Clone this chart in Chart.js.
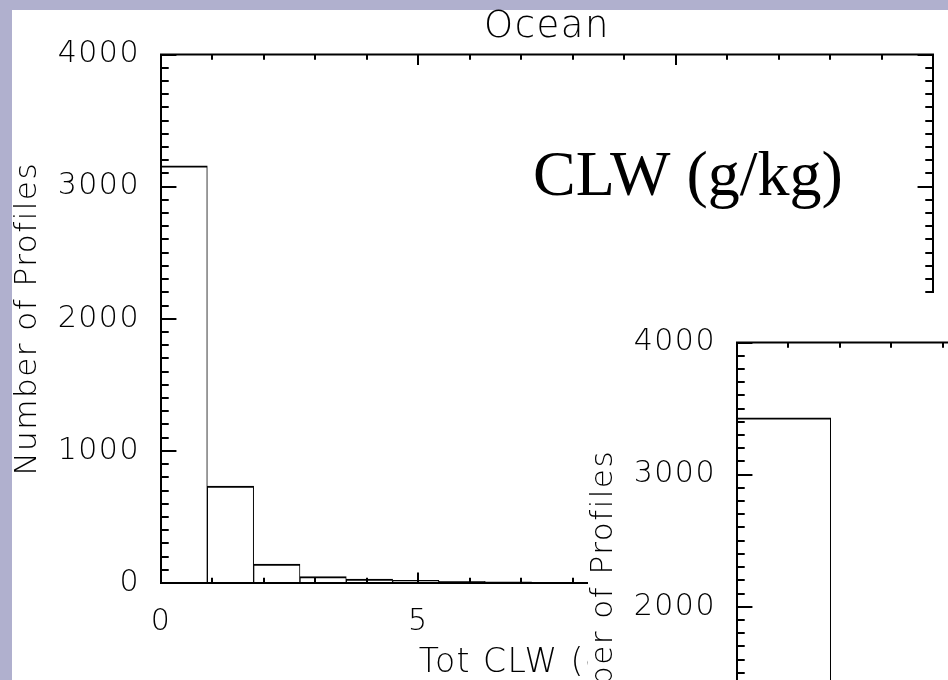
<!DOCTYPE html>
<html>
<head>
<meta charset="utf-8">
<script src="https://cdn.jsdelivr.net/npm/chart.js@4.4.1/dist/chart.umd.min.js"></script>
<style>
  html, body { margin: 0; padding: 0; width: 948px; height: 680px; overflow: hidden; background: #b0b0ce; }
  #panel { position: absolute; left: 12px; top: 10px; width: 936px; height: 670px; background: #fff; }
  #wrap1 { position: absolute; left: 0; top: 0; width: 952px; height: 680px; }
  #clip2 { position: absolute; left: 588px; top: 293px; width: 360px; height: 387px; overflow: hidden; background: #fff; }
  #wrap2 { position: absolute; left: -12px; top: -5px; width: 952px; height: 680px; }
  canvas { display: block; }
</style>
</head>
<body>
<div id="panel"></div>
<div id="wrap1"><canvas id="c1" width="952" height="680" style="width:952px;height:680px"></canvas></div>
<div id="clip2"><div id="wrap2"><canvas id="c2" width="952" height="680" style="width:952px;height:680px"></canvas></div></div>
<script>
// ---------------- data ----------------
const chartTitle = 'Ocean';
const xTitle = 'Tot CLW (g/kg)';
const yTitle = 'Number of Profiles';
const overlayLabel = 'CLW (g/kg)';

// histogram 1 (Ocean): bin centres (bin width 0.9) and counts
const oceanBinCenters = [0.45, 1.35, 2.25, 3.15, 4.05, 4.95, 5.85, 6.75, 7.65, 8.55, 9.45];
const oceanCounts     = [3157, 733, 144, 48, 30, 20, 13, 9, 5, 4, 2];

// histogram 2 (second pasted plot, mostly cropped): bin centres and counts
const plot2BinCenters = [0.91, 2.73, 4.55, 6.37, 8.19, 10.01];
const plot2Counts     = [3429, 1000, 250, 80, 30, 10];

// tick labels
const xTickValues = [0, 5, 10, 15];
const yTickValues = [0, 1000, 2000, 3000, 4000];

// ---------------- styling ----------------
const FONT = '"DejaVu Sans", "Liberation Sans", sans-serif';
Chart.defaults.color = '#000';

const spacing = {
  id: 'spacing',
  beforeDraw(chart) { chart.ctx.letterSpacing = '1.5px'; }
};

const idlFrame = {
  id: 'idlFrame',
  afterDatasetsDraw(chart) {
    const { ctx, chartArea: a, scales: { x, y } } = chart;
    const w = a.right - a.left, h = a.bottom - a.top;
    const xMaj = 0.02 * h, yMaj = 0.02 * w;
    ctx.save();
    ctx.strokeStyle = '#000';
    ctx.lineWidth = 2;
    ctx.beginPath();
    for (let v = x.min; v <= x.max + 1e-9; v += 1) {
      const px = Math.round(x.getPixelForValue(v));
      const len = (Math.round(v) % 5 === 0) ? xMaj : xMaj / 2;
      ctx.moveTo(px, a.bottom); ctx.lineTo(px, a.bottom - len);
      ctx.moveTo(px, a.top); ctx.lineTo(px, a.top + len);
    }
    for (let v = y.min; v <= y.max + 1e-9; v += 100) {
      const py = Math.round(y.getPixelForValue(v));
      const len = (Math.round(v) % 1000 === 0) ? yMaj : yMaj / 2;
      ctx.moveTo(a.left, py); ctx.lineTo(a.left + len, py);
      ctx.moveTo(a.right, py); ctx.lineTo(a.right - len, py);
    }
    ctx.stroke();
    ctx.strokeRect(a.left, a.top, w, h);
    ctx.restore();
  }
};

const overlayText = {
  id: 'overlayText',
  afterDraw(chart) {
    const ctx = chart.ctx;
    ctx.save();
    ctx.letterSpacing = '0px';
    ctx.font = '64px "Liberation Serif", "Times New Roman", serif';
    ctx.fillStyle = '#000';
    ctx.textBaseline = 'alphabetic';
    ctx.textAlign = 'left';
    ctx.fillText(overlayLabel, 533, 195);
    ctx.restore();
  }
};

function makeConfig(centers, counts, extraPlugins) {
  return {
    type: 'bar',
    data: {
      datasets: [{
        data: centers.map((c, i) => ({ x: c, y: counts[i] })),
        backgroundColor: '#ffffff',
        borderColor: '#000000',
        borderWidth: { top: 2, left: 1, right: 1, bottom: 0 },
        borderSkipped: 'start',
        barPercentage: 1,
        categoryPercentage: 1
      }]
    },
    options: {
      responsive: false,
      animation: false,
      events: [],
      layout: { padding: { left: 0, right: 19, top: 0, bottom: 0 } },
      plugins: {
        legend: { display: false },
        tooltip: { enabled: false },
        title: {
          display: true,
          fullSize: false,
          text: chartTitle,
          color: '#000',
          font: { family: FONT, size: 37, weight: '200', lineHeight: 1 },
          padding: { top: 8.4, bottom: 9.1 }
        }
      },
      scales: {
        x: {
          type: 'linear',
          min: 0, max: 15,
          offset: false,
          afterBuildTicks: s => { s.ticks = xTickValues.map(v => ({ value: v })); },
          ticks: {
            callback: v => String(v),
            font: { family: FONT, size: 30, weight: '200' },
            padding: 13,
            maxRotation: 0,
            autoSkip: false
          },
          grid: { display: false },
          border: { display: false },
          title: {
            display: true,
            text: xTitle,
            font: { family: FONT, size: 33, weight: '200', lineHeight: 1 },
            padding: { top: 0, bottom: 0 }
          },
          afterFit: s => { s.height = 97; s.paddingLeft = 0; s.paddingRight = 0; }
        },
        y: {
          min: 0, max: 4000,
          afterBuildTicks: s => { s.ticks = yTickValues.map(v => ({ value: v })); },
          ticks: {
            callback: v => String(v),
            font: { family: FONT, size: 30, weight: '200' },
            padding: 13
          },
          grid: { display: false },
          border: { display: false },
          title: {
            display: true,
            text: yTitle,
            font: { family: FONT, size: 31, weight: '200', lineHeight: 1 },
            padding: { top: 12.3, bottom: 0 }
          },
          afterFit: s => { s.width = 161; s.paddingTop = 0; s.paddingBottom = 0; }
        }
      }
    },
    plugins: [spacing, idlFrame].concat(extraPlugins)
  };
}

new Chart(document.getElementById('c1'), makeConfig(oceanBinCenters, oceanCounts, [overlayText]));
new Chart(document.getElementById('c2'), makeConfig(plot2BinCenters, plot2Counts, []));
</script>
</body>
</html>
